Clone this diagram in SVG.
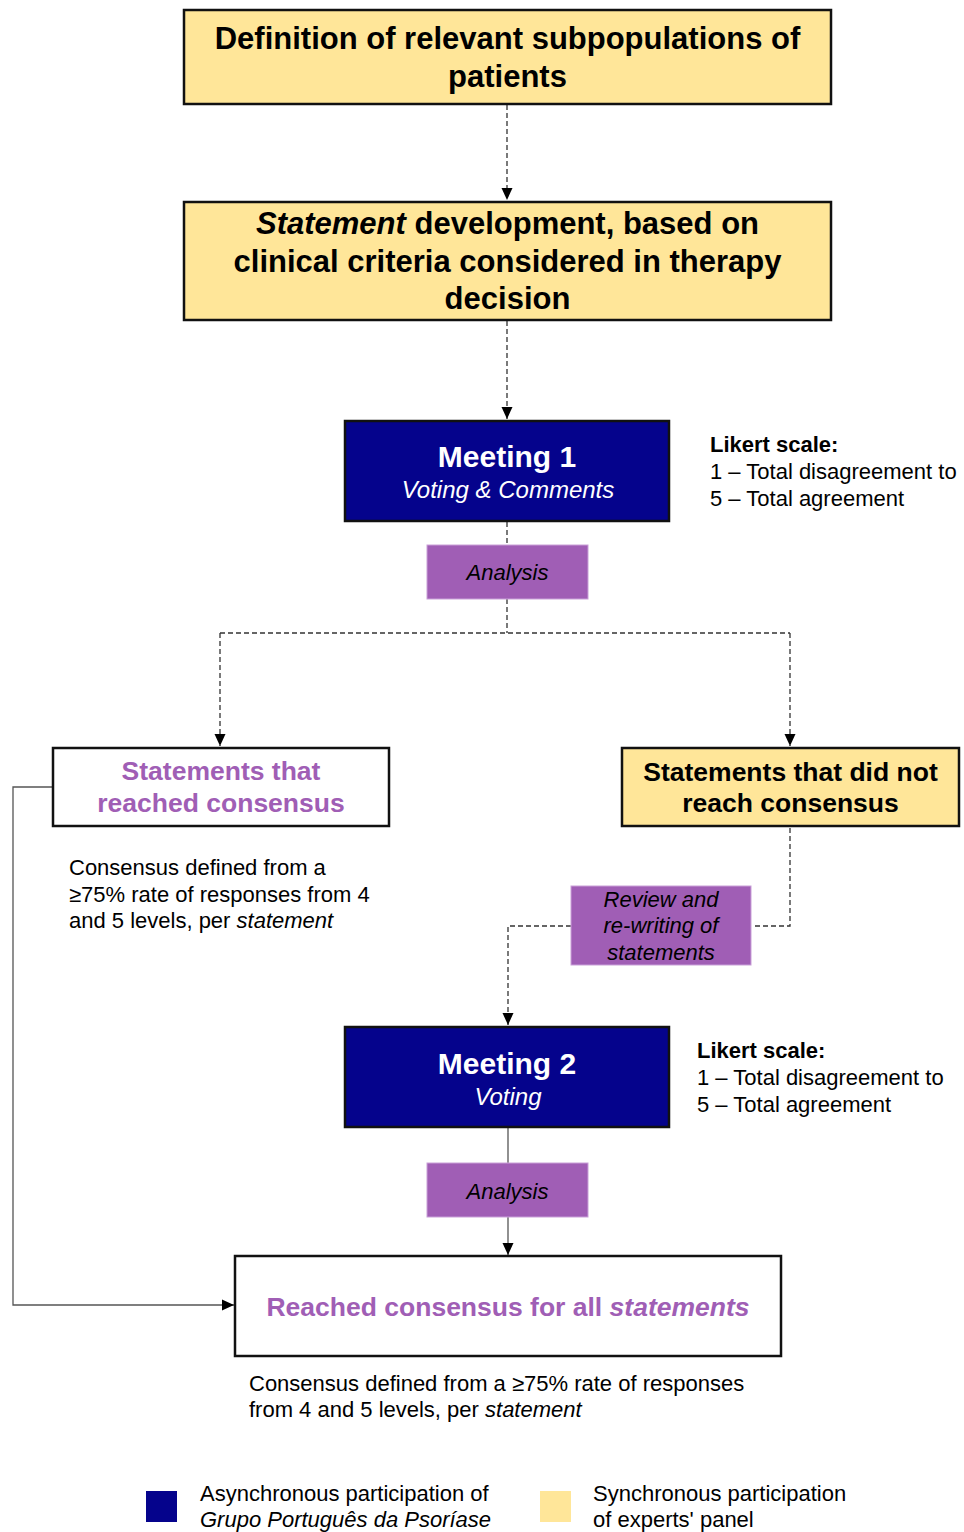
<svg xmlns="http://www.w3.org/2000/svg" width="964" height="1532" viewBox="0 0 964 1532">
<style>
text{font-family:"Liberation Sans",Arial,Helvetica,sans-serif;}
.box{stroke:#111;stroke-width:2.5;}
.yel{fill:#FFE699;}
.navy{fill:#05038C;}
.white{fill:#fff;}
.pur{fill:#A05EB5;stroke:#C9A0D8;stroke-width:1;}
.h{font-size:31px;font-weight:bold;fill:#000;text-anchor:middle;}
.m{font-size:30px;font-weight:bold;fill:#fff;text-anchor:middle;}
.mi{font-size:24px;font-style:italic;fill:#fff;text-anchor:middle;}
.an{font-size:22px;font-style:italic;fill:#000;text-anchor:middle;}
.s{font-size:26.5px;font-weight:bold;text-anchor:middle;}
.t{font-size:22px;fill:#000;}
.tb{font-size:22px;font-weight:bold;fill:#000;}
.dash{fill:none;stroke:#333;stroke-width:1.3;stroke-dasharray:5 3;}
.sol{fill:none;stroke:#555;stroke-width:1.3;}
</style>
<defs>
<marker id="arr" markerUnits="userSpaceOnUse" markerWidth="12" markerHeight="12" viewBox="0 0 12 12" refX="12" refY="6" orient="auto">
<path d="M0,0.5 L12,6 L0,11.5 z" fill="#000"/>
</marker>
</defs>

<g id="connectors">
<path class="dash" d="M507,105 V200" marker-end="url(#arr)"/>
<path class="dash" d="M507,321 V419" marker-end="url(#arr)"/>
<path class="dash" d="M507,522 V545"/>
<path class="dash" d="M507,599 V633"/>
<path class="dash" d="M220,633 H790"/>
<path class="dash" d="M220,633 V746" marker-end="url(#arr)"/>
<path class="dash" d="M790,633 V746" marker-end="url(#arr)"/>
<path class="dash" d="M790,828 V926 H752"/>
<path class="dash" d="M571,926 H508 V1025" marker-end="url(#arr)"/>
<path class="sol" d="M508,1128 V1163"/>
<path class="sol" d="M508,1217 V1255" marker-end="url(#arr)"/>
<path class="sol" d="M52,787 H13 V1305 H234" marker-end="url(#arr)"/>
</g>

<g id="node-definition">
<rect class="box yel" x="184" y="10" width="647" height="94"/>
<text class="h" x="507.5" y="49">Definition of relevant subpopulations of</text>
<text class="h" x="507.5" y="87">patients</text>
</g>

<g id="node-statement-dev">
<rect class="box yel" x="184" y="202" width="647" height="118"/>
<text class="h" x="507.5" y="234"><tspan font-style="italic">Statement</tspan> development, based on</text>
<text class="h" x="507.5" y="272">clinical criteria considered in therapy</text>
<text class="h" x="507.5" y="309">decision</text>
</g>

<g id="node-meeting1">
<rect class="box navy" x="345" y="421" width="324" height="100"/>
<text class="m" x="507" y="467">Meeting 1</text>
<text class="mi" x="508" y="498">Voting &amp; Comments</text>
</g>

<g id="node-likert1">
<text class="tb" x="710" y="452">Likert scale:</text>
<text class="t" x="710" y="479">1 – Total disagreement to</text>
<text class="t" x="710" y="506">5 – Total agreement</text>
</g>

<g id="node-analysis1">
<rect class="pur" x="427" y="545" width="161" height="54"/>
<text class="an" x="507.5" y="580">Analysis</text>
</g>

<g id="node-reached">
<rect class="box white" x="53" y="748" width="336" height="78"/>
<text class="s" x="221" y="780" fill="#A05EB5">Statements that</text>
<text class="s" x="221" y="812" fill="#A05EB5">reached consensus</text>
</g>

<g id="note-reached">
<text class="t" x="69" y="875">Consensus defined from a</text>
<text class="t" x="69" y="902">≥75% rate of responses from 4</text>
<text class="t" x="69" y="928">and 5 levels, per <tspan font-style="italic">statement</tspan></text>
</g>

<g id="node-not-reached">
<rect class="box yel" x="622" y="748" width="337" height="78"/>
<text class="s" x="790.5" y="781" fill="#000">Statements that did not</text>
<text class="s" x="790.5" y="812" fill="#000">reach consensus</text>
</g>

<g id="node-review">
<rect class="pur" x="571" y="886" width="180" height="79"/>
<text class="an" x="661" y="907">Review and</text>
<text class="an" x="661" y="933">re-writing of</text>
<text class="an" x="661" y="960">statements</text>
</g>

<g id="node-meeting2">
<rect class="box navy" x="345" y="1027" width="324" height="100"/>
<text class="m" x="507" y="1074">Meeting 2</text>
<text class="mi" x="508" y="1105">Voting</text>
</g>

<g id="node-likert2">
<text class="tb" x="697" y="1058">Likert scale:</text>
<text class="t" x="697" y="1085">1 – Total disagreement to</text>
<text class="t" x="697" y="1112">5 – Total agreement</text>
</g>

<g id="node-analysis2">
<rect class="pur" x="427" y="1163" width="161" height="54"/>
<text class="an" x="507.5" y="1199">Analysis</text>
</g>

<g id="node-final">
<rect class="box white" x="235" y="1256" width="546" height="100"/>
<text class="s" x="508" y="1316" fill="#A05EB5">Reached consensus for all <tspan font-style="italic">statements</tspan></text>
</g>

<g id="note-final">
<text class="t" x="249" y="1391">Consensus defined from a ≥75% rate of responses</text>
<text class="t" x="249" y="1417">from 4 and 5 levels, per <tspan font-style="italic">statement</tspan></text>
</g>

<g id="legend">
<rect x="146" y="1491" width="31" height="31" fill="#05038C"/>
<text class="t" x="200" y="1501">Asynchronous participation of</text>
<text class="t" x="200" y="1527" font-style="italic">Grupo Português da Psoríase</text>
<rect x="540" y="1491" width="31" height="31" fill="#FFE699"/>
<text class="t" x="593" y="1501">Synchronous participation</text>
<text class="t" x="593" y="1527">of experts' panel</text>
</g>
</svg>
